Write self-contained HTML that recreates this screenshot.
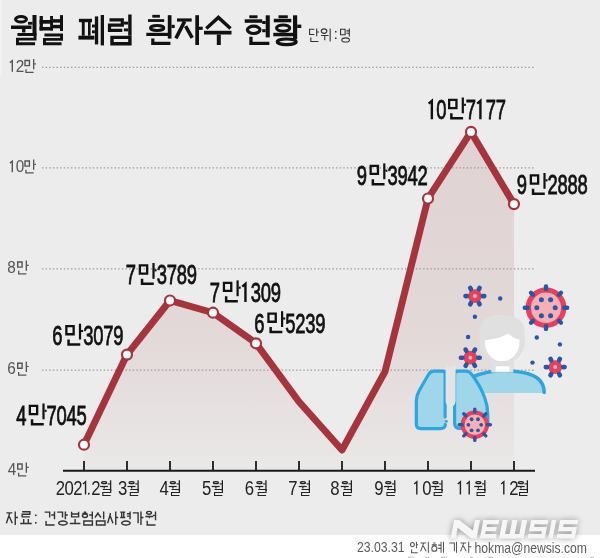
<!DOCTYPE html>
<html><head><meta charset="utf-8"><style>
html,body{margin:0;padding:0;background:#fff;width:600px;height:558px;overflow:hidden}
svg{display:block;will-change:transform}
text{font-family:"Liberation Sans",sans-serif}
</style></head><body>
<svg width="600" height="558" viewBox="0 0 600 558">
<rect x="0" y="0" width="600" height="535.5" fill="#ececec"/>
<rect x="0" y="535" width="600" height="23" fill="#ffffff"/>
<rect x="0" y="0" width="1.6" height="75" fill="#f2f2f2"/>
<defs><linearGradient id="gf" x1="0" y1="0" x2="0" y2="1"><stop offset="0" stop-color="#e0d2d2"/><stop offset="0.62" stop-color="#e3d9d9"/><stop offset="1" stop-color="#eae8e8"/></linearGradient></defs>
<polygon points="84.0,444.7 127.0,354.6 170.0,300.5 213.0,312.7 256.0,343.3 299.0,401.7 342.0,450.0 385.0,371.7 428.0,198.5 471.0,131.9 514.0,204.1 514.0,470.8 84.0,470.8" fill="url(#gf)"/>
<line x1="42" y1="67.3" x2="534" y2="67.3" stroke="#999" stroke-width="1.25" stroke-dasharray="1.4 2.23"/>
<line x1="42" y1="167.8" x2="534" y2="167.8" stroke="#999" stroke-width="1.25" stroke-dasharray="1.4 2.23"/>
<line x1="42" y1="268.8" x2="534" y2="268.8" stroke="#999" stroke-width="1.25" stroke-dasharray="1.4 2.23"/>
<line x1="42" y1="370.0" x2="534" y2="370.0" stroke="#999" stroke-width="1.25" stroke-dasharray="1.4 2.23"/>
<line x1="63" y1="470.8" x2="535" y2="470.8" stroke="#1a1a1a" stroke-width="2"/>
<line x1="84.0" y1="461" x2="84.0" y2="470.8" stroke="#1a1a1a" stroke-width="1.8"/>
<line x1="127.0" y1="461" x2="127.0" y2="470.8" stroke="#1a1a1a" stroke-width="1.8"/>
<line x1="170.0" y1="461" x2="170.0" y2="470.8" stroke="#1a1a1a" stroke-width="1.8"/>
<line x1="213.0" y1="461" x2="213.0" y2="470.8" stroke="#1a1a1a" stroke-width="1.8"/>
<line x1="256.0" y1="461" x2="256.0" y2="470.8" stroke="#1a1a1a" stroke-width="1.8"/>
<line x1="299.0" y1="461" x2="299.0" y2="470.8" stroke="#1a1a1a" stroke-width="1.8"/>
<line x1="342.0" y1="461" x2="342.0" y2="470.8" stroke="#1a1a1a" stroke-width="1.8"/>
<line x1="385.0" y1="461" x2="385.0" y2="470.8" stroke="#1a1a1a" stroke-width="1.8"/>
<line x1="428.0" y1="461" x2="428.0" y2="470.8" stroke="#1a1a1a" stroke-width="1.8"/>
<line x1="471.0" y1="461" x2="471.0" y2="470.8" stroke="#1a1a1a" stroke-width="1.8"/>
<line x1="514.0" y1="461" x2="514.0" y2="470.8" stroke="#1a1a1a" stroke-width="1.8"/>
<polyline points="84.0,444.7 127.0,354.6 170.0,300.5 213.0,312.7 256.0,343.3 299.0,401.7 342.0,450.0 385.0,371.7 428.0,198.5 471.0,131.9 514.0,204.1" fill="none" stroke="#a6343c" stroke-width="6.9" stroke-linejoin="round"/>
<circle cx="84.0" cy="444.7" r="5" fill="#fff" stroke="#a6343c" stroke-width="2.2"/>
<circle cx="127.0" cy="354.6" r="5" fill="#fff" stroke="#a6343c" stroke-width="2.2"/>
<circle cx="170.0" cy="300.5" r="5" fill="#fff" stroke="#a6343c" stroke-width="2.2"/>
<circle cx="213.0" cy="312.7" r="5" fill="#fff" stroke="#a6343c" stroke-width="2.2"/>
<circle cx="256.0" cy="343.3" r="5" fill="#fff" stroke="#a6343c" stroke-width="2.2"/>
<circle cx="428.0" cy="198.5" r="5" fill="#fff" stroke="#a6343c" stroke-width="2.2"/>
<circle cx="471.0" cy="131.9" r="5" fill="#fff" stroke="#a6343c" stroke-width="2.2"/>
<circle cx="514.0" cy="204.1" r="5" fill="#fff" stroke="#a6343c" stroke-width="2.2"/>
<g fill="none" stroke="#111111" stroke-linejoin="miter"><path d="M15.50 19.30A5.50 2.80 0 1 0 26.50 19.30A5.50 2.80 0 1 0 15.50 19.30Z" stroke-width="3.00"/><path d="M11.00 27.25H31.50" stroke-width="3.50"/><path d="M23.75 29.00V32.50" stroke-width="3.40"/><path d="M34.50 15.00V35.50" stroke-width="4.00"/><path d="M28.00 23.30H32.50" stroke-width="2.80"/><path d="M17.45 34.45 L35.05 34.45 L35.05 39.1 L17.45 39.1 L17.45 43.75 L35.05 43.75" stroke-width="2.90"/><path d="M41.25 16.00V30.50" stroke-width="3.30"/><path d="M51.55 16.00V30.50" stroke-width="2.90"/><path d="M39.60 21.85H53.00" stroke-width="3.70"/><path d="M39.60 28.75H53.00" stroke-width="3.50"/><path d="M61.50 15.10V31.00" stroke-width="3.00"/><path d="M53.00 20.90H60.00" stroke-width="3.50"/><path d="M53.00 26.60H60.00" stroke-width="3.50"/><path d="M44.45 34.95 L61.55 34.95 L61.55 39.35 L44.45 39.35 L44.45 43.75 L61.55 43.75" stroke-width="2.90"/><path d="M78.90 20.50H92.00" stroke-width="3.40"/><path d="M83.25 22.00V35.70" stroke-width="2.90"/><path d="M89.30 22.00V35.70" stroke-width="2.60"/><path d="M78.40 37.65H94.40" stroke-width="3.90"/><path d="M96.55 16.40V44.40" stroke-width="3.30"/><path d="M102.35 15.00V45.40" stroke-width="3.30"/><path d="M92.00 26.00H94.90" stroke-width="2.90"/><path d="M92.00 31.80H94.90" stroke-width="2.90"/><path d="M109.5 19.9 L122.3 19.9 L122.3 25.1 L109.5 25.1 L109.5 30.3 L122.3 30.3" stroke-width="3.20"/><path d="M129.90 14.50V35.70" stroke-width="3.40"/><path d="M123.90 23.10H128.20" stroke-width="2.90"/><path d="M123.90 29.90H128.20" stroke-width="2.90"/><path d="M112 37.4 L129.9 37.4 L129.9 43.7 L112 43.7Z" stroke-width="3.40"/><path d="M152.30 16.25H159.90" stroke-width="2.80"/><path d="M148.00 20.55H164.20" stroke-width="2.80"/><path d="M150.50 27.95A6.65 2.45 0 1 0 163.80 27.95A6.65 2.45 0 1 0 150.50 27.95Z" stroke-width="3.00"/><path d="M146.30 34.40H170.00" stroke-width="3.20"/><path d="M169.65 15.20V38.60" stroke-width="3.70"/><path d="M171.50 26.40H174.70" stroke-width="3.20"/><path d="M152.8 38.6 L152.8 43.4 L170.4 43.4" stroke-width="3.20"/><path d="M177.00 20.00H191.70" stroke-width="3.20"/><path d="M184.60 21.40 L175.90 38.40" stroke-width="3.60"/><path d="M185.60 26.20 L192.20 37.80" stroke-width="3.60"/><path d="M197.15 15.20V45.00" stroke-width="3.70"/><path d="M199.00 28.30H202.70" stroke-width="3.20"/><path d="M206.30 28.60 L218.40 17.40 L230.50 28.60" stroke-width="3.40"/><path d="M204.00 32.65H231.50" stroke-width="3.70"/><path d="M218.80 34.50V45.00" stroke-width="4.00"/><path d="M249.30 16.75H257.50" stroke-width="2.90"/><path d="M244.70 21.05H262.20" stroke-width="3.50"/><path d="M247.40 29.85A6.30 3.65 0 1 0 260.00 29.85A6.30 3.65 0 1 0 247.40 29.85Z" stroke-width="3.20"/><path d="M267.75 15.30V37.40" stroke-width="4.10"/><path d="M262.20 22.50H265.70" stroke-width="3.00"/><path d="M262.20 30.70H265.70" stroke-width="3.00"/><path d="M250.95 36.65 L250.95 43.35 L269.35 43.35" stroke-width="3.30"/><path d="M278.50 16.75H287.80" stroke-width="2.90"/><path d="M273.80 20.55H291.30" stroke-width="3.50"/><path d="M276.50 28.10A6.65 3.20 0 1 0 289.80 28.10A6.65 3.20 0 1 0 276.50 28.10Z" stroke-width="3.00"/><path d="M273.30 34.55H294.80" stroke-width="3.50"/><path d="M295.10 15.30V39.20" stroke-width="4.20"/><path d="M297.20 26.30H301.30" stroke-width="3.40"/><path d="M277.20 41.80A9.50 2.80 0 1 0 296.20 41.80A9.50 2.80 0 1 0 277.20 41.80Z" stroke-width="3.20"/></g>
<path d="M314.33 29.25 L309.55 29.25 L309.55 34.45 L314.33 34.45 M316.69 28.55 L316.69 36.13 M316.69 31.96 L318.95 31.96 M310.81 37.51 L310.81 41.45 L318.43 41.45" fill="none" stroke="#333" stroke-width="1.1" stroke-linejoin="miter" />
<path d="M321.28 31.08 A2.78 2.25 0 1 0 326.85 31.08 A2.78 2.25 0 1 0 321.28 31.08 Z M321.05 35.55 L328.46 35.55 M324.75 35.55 L324.75 40.33 M330.16 28.55 L330.16 41.45" fill="none" stroke="#333" stroke-width="1.1" stroke-linejoin="miter" />
<rect x="335" y="31" width="1.5" height="1.5" fill="#333"/><rect x="335" y="37.5" width="1.5" height="1.5" fill="#333"/>
<path d="M340.55 29.28 L345.12 29.28 L345.12 34.7 L340.55 34.7Z M349.32 28.55 L349.32 36.44 M346.43 30.92 L349.32 30.92 M346.43 33.28 L349.32 33.28 M341.81 39.89 A3.81 2.06 0 1 0 349.43 39.89 A3.81 2.06 0 1 0 341.81 39.89 Z" fill="none" stroke="#333" stroke-width="1.1" stroke-linejoin="miter" />
<path d="M9.90 62.60 L12.30 60.70 V71.70" fill="none" stroke="#555" stroke-width="1.40"/><text transform="translate(15.76 71.70) scale(0.9000 1)" font-family="Liberation Sans" font-size="17.00" font-weight="normal" letter-spacing="-1.611" fill="#555">2</text>
<g fill="none" stroke="#555" stroke-linejoin="miter" transform="translate(24.30 59.00)"><path d="M0.7 1.5 L5.1 1.5 L5.1 6.6 L0.7 6.6Z" stroke-width="1.40"/><path d="M9.35 0.00V10.30" stroke-width="1.35"/><path d="M10.00 4.80H11.70" stroke-width="1.15"/><path d="M1.65 10.25 L1.65 13.35 L9.35 13.35" stroke-width="1.30"/></g>
<path d="M9.90 163.10 L12.30 161.20 V172.20" fill="none" stroke="#555" stroke-width="1.40"/><text transform="translate(15.76 172.20) scale(0.9000 1)" font-family="Liberation Sans" font-size="17.00" font-weight="normal" letter-spacing="-1.611" fill="#555">0</text>
<g fill="none" stroke="#555" stroke-linejoin="miter" transform="translate(24.30 159.50)"><path d="M0.7 1.5 L5.1 1.5 L5.1 6.6 L0.7 6.6Z" stroke-width="1.40"/><path d="M9.35 0.00V10.30" stroke-width="1.35"/><path d="M10.00 4.80H11.70" stroke-width="1.15"/><path d="M1.65 10.25 L1.65 13.35 L9.35 13.35" stroke-width="1.30"/></g>
<text transform="translate(7.34 273.20) scale(0.9000 1)" font-family="Liberation Sans" font-size="17.00" font-weight="normal" letter-spacing="-1.611" fill="#555">8</text>
<g fill="none" stroke="#555" stroke-linejoin="miter" transform="translate(17.00 260.50)"><path d="M0.7 1.5 L5.1 1.5 L5.1 6.6 L0.7 6.6Z" stroke-width="1.40"/><path d="M9.35 0.00V10.30" stroke-width="1.35"/><path d="M10.00 4.80H11.70" stroke-width="1.15"/><path d="M1.65 10.25 L1.65 13.35 L9.35 13.35" stroke-width="1.30"/></g>
<text transform="translate(7.22 374.40) scale(0.9000 1)" font-family="Liberation Sans" font-size="17.00" font-weight="normal" letter-spacing="-1.611" fill="#555">6</text>
<g fill="none" stroke="#555" stroke-linejoin="miter" transform="translate(17.00 361.70)"><path d="M0.7 1.5 L5.1 1.5 L5.1 6.6 L0.7 6.6Z" stroke-width="1.40"/><path d="M9.35 0.00V10.30" stroke-width="1.35"/><path d="M10.00 4.80H11.70" stroke-width="1.15"/><path d="M1.65 10.25 L1.65 13.35 L9.35 13.35" stroke-width="1.30"/></g>
<text transform="translate(7.65 475.20) scale(0.9000 1)" font-family="Liberation Sans" font-size="17.00" font-weight="normal" letter-spacing="-1.611" fill="#555">4</text>
<g fill="none" stroke="#555" stroke-linejoin="miter" transform="translate(17.00 462.50)"><path d="M0.7 1.5 L5.1 1.5 L5.1 6.6 L0.7 6.6Z" stroke-width="1.40"/><path d="M9.35 0.00V10.30" stroke-width="1.35"/><path d="M10.00 4.80H11.70" stroke-width="1.15"/><path d="M1.65 10.25 L1.65 13.35 L9.35 13.35" stroke-width="1.30"/></g>
<text transform="translate(16.28 424.80) scale(0.6770 1)" font-family="Liberation Sans" font-size="27.20" font-weight="normal" letter-spacing="-0.369" fill="#111111" stroke="#111111" stroke-width="0.80">4</text>
<g fill="none" stroke="#111111" stroke-linejoin="miter" transform="translate(28.70 403.50)"><path d="M1.15 2.4 L8.45 2.4 L8.45 10.55 L1.15 10.55Z" stroke-width="2.30"/><path d="M14.80 0.00V15.80" stroke-width="2.20"/><path d="M15.85 7.30H17.90" stroke-width="2.10"/><path d="M3.35 15.75 L3.35 20.85 L15.05 20.85" stroke-width="2.50"/></g>
<text transform="translate(46.56 424.80) scale(0.6770 1)" font-family="Liberation Sans" font-size="27.20" font-weight="normal" letter-spacing="-0.369" fill="#111111" stroke="#111111" stroke-width="0.80">7045</text>
<text transform="translate(52.26 345.00) scale(0.6770 1)" font-family="Liberation Sans" font-size="27.20" font-weight="normal" letter-spacing="-0.369" fill="#111111" stroke="#111111" stroke-width="0.80">6</text>
<g fill="none" stroke="#111111" stroke-linejoin="miter" transform="translate(65.20 323.70)"><path d="M1.15 2.4 L8.45 2.4 L8.45 10.55 L1.15 10.55Z" stroke-width="2.30"/><path d="M14.80 0.00V15.80" stroke-width="2.20"/><path d="M15.85 7.30H17.90" stroke-width="2.10"/><path d="M3.35 15.75 L3.35 20.85 L15.05 20.85" stroke-width="2.50"/></g>
<text transform="translate(83.30 345.00) scale(0.6770 1)" font-family="Liberation Sans" font-size="27.20" font-weight="normal" letter-spacing="-0.369" fill="#111111" stroke="#111111" stroke-width="0.80">3079</text>
<text transform="translate(125.76 284.30) scale(0.6770 1)" font-family="Liberation Sans" font-size="27.20" font-weight="normal" letter-spacing="-0.369" fill="#111111" stroke="#111111" stroke-width="0.80">7</text>
<g fill="none" stroke="#111111" stroke-linejoin="miter" transform="translate(138.70 263.00)"><path d="M1.15 2.4 L8.45 2.4 L8.45 10.55 L1.15 10.55Z" stroke-width="2.30"/><path d="M14.80 0.00V15.80" stroke-width="2.20"/><path d="M15.85 7.30H17.90" stroke-width="2.10"/><path d="M3.35 15.75 L3.35 20.85 L15.05 20.85" stroke-width="2.50"/></g>
<text transform="translate(156.80 284.30) scale(0.6770 1)" font-family="Liberation Sans" font-size="27.20" font-weight="normal" letter-spacing="-0.369" fill="#111111" stroke="#111111" stroke-width="0.80">3789</text>
<text transform="translate(209.86 301.70) scale(0.6770 1)" font-family="Liberation Sans" font-size="27.20" font-weight="normal" letter-spacing="-0.369" fill="#111111" stroke="#111111" stroke-width="0.80">7</text>
<g fill="none" stroke="#111111" stroke-linejoin="miter" transform="translate(222.80 280.40)"><path d="M1.15 2.4 L8.45 2.4 L8.45 10.55 L1.15 10.55Z" stroke-width="2.30"/><path d="M14.80 0.00V15.80" stroke-width="2.20"/><path d="M15.85 7.30H17.90" stroke-width="2.10"/><path d="M3.35 15.75 L3.35 20.85 L15.05 20.85" stroke-width="2.50"/></g>
<path d="M242.25 286.59 L245.45 283.79 V302.10" fill="none" stroke="#111111" stroke-width="2.40"/><text transform="translate(250.87 301.70) scale(0.6770 1)" font-family="Liberation Sans" font-size="27.20" font-weight="normal" letter-spacing="-0.369" fill="#111111" stroke="#111111" stroke-width="0.80">309</text>
<text transform="translate(254.36 332.50) scale(0.6770 1)" font-family="Liberation Sans" font-size="27.20" font-weight="normal" letter-spacing="-0.369" fill="#111111" stroke="#111111" stroke-width="0.80">6</text>
<g fill="none" stroke="#111111" stroke-linejoin="miter" transform="translate(267.30 311.20)"><path d="M1.15 2.4 L8.45 2.4 L8.45 10.55 L1.15 10.55Z" stroke-width="2.30"/><path d="M14.80 0.00V15.80" stroke-width="2.20"/><path d="M15.85 7.30H17.90" stroke-width="2.10"/><path d="M3.35 15.75 L3.35 20.85 L15.05 20.85" stroke-width="2.50"/></g>
<text transform="translate(285.36 332.50) scale(0.6770 1)" font-family="Liberation Sans" font-size="27.20" font-weight="normal" letter-spacing="-0.369" fill="#111111" stroke="#111111" stroke-width="0.80">5239</text>
<text transform="translate(356.64 184.70) scale(0.6770 1)" font-family="Liberation Sans" font-size="27.20" font-weight="normal" letter-spacing="-0.369" fill="#111111" stroke="#111111" stroke-width="0.80">9</text>
<g fill="none" stroke="#111111" stroke-linejoin="miter" transform="translate(369.50 163.40)"><path d="M1.15 2.4 L8.45 2.4 L8.45 10.55 L1.15 10.55Z" stroke-width="2.30"/><path d="M14.80 0.00V15.80" stroke-width="2.20"/><path d="M15.85 7.30H17.90" stroke-width="2.10"/><path d="M3.35 15.75 L3.35 20.85 L15.05 20.85" stroke-width="2.50"/></g>
<text transform="translate(387.60 184.70) scale(0.6770 1)" font-family="Liberation Sans" font-size="27.20" font-weight="normal" letter-spacing="-0.369" fill="#111111" stroke="#111111" stroke-width="0.80">3942</text>
<path d="M428.65 103.69 L431.85 100.89 V119.20" fill="none" stroke="#111111" stroke-width="2.40"/><text transform="translate(436.32 118.80) scale(0.6770 1)" font-family="Liberation Sans" font-size="27.20" font-weight="normal" letter-spacing="-1.773" fill="#111111" stroke="#111111" stroke-width="0.80">0</text>
<g fill="none" stroke="#111111" stroke-linejoin="miter" transform="translate(448.00 97.50)"><path d="M1.15 2.4 L8.45 2.4 L8.45 10.55 L1.15 10.55Z" stroke-width="2.30"/><path d="M14.80 0.00V15.80" stroke-width="2.20"/><path d="M15.85 7.30H17.90" stroke-width="2.10"/><path d="M3.35 15.75 L3.35 20.85 L15.05 20.85" stroke-width="2.50"/></g>
<text transform="translate(465.86 118.80) scale(0.6770 1)" font-family="Liberation Sans" font-size="27.20" font-weight="normal" letter-spacing="-0.369" fill="#111111" stroke="#111111" stroke-width="0.80">7</text><path d="M477.21 103.69 L480.41 100.89 V119.20" fill="none" stroke="#111111" stroke-width="2.40"/><text transform="translate(485.84 118.80) scale(0.6770 1)" font-family="Liberation Sans" font-size="27.20" font-weight="normal" letter-spacing="-0.369" fill="#111111" stroke="#111111" stroke-width="0.80">77</text>
<text transform="translate(516.84 194.30) scale(0.6770 1)" font-family="Liberation Sans" font-size="27.20" font-weight="normal" letter-spacing="-0.369" fill="#111111" stroke="#111111" stroke-width="0.80">9</text>
<g fill="none" stroke="#111111" stroke-linejoin="miter" transform="translate(529.70 173.00)"><path d="M1.15 2.4 L8.45 2.4 L8.45 10.55 L1.15 10.55Z" stroke-width="2.30"/><path d="M14.80 0.00V15.80" stroke-width="2.20"/><path d="M15.85 7.30H17.90" stroke-width="2.10"/><path d="M3.35 15.75 L3.35 20.85 L15.05 20.85" stroke-width="2.50"/></g>
<text transform="translate(547.57 194.30) scale(0.6770 1)" font-family="Liberation Sans" font-size="27.20" font-weight="normal" letter-spacing="-0.369" fill="#111111" stroke="#111111" stroke-width="0.80">2888</text>
<text transform="translate(55.66 494.60) scale(0.8540 1)" font-family="Liberation Sans" font-size="19.60" font-weight="normal" letter-spacing="-0.585" fill="#222">202</text><path d="M82.94 483.92 L85.54 481.82 V494.60" fill="none" stroke="#222" stroke-width="1.40"/>
<rect x="88" y="492.8" width="1.6" height="1.8" fill="#222"/>
<text transform="translate(91.16 494.60) scale(0.8540 1)" font-family="Liberation Sans" font-size="19.60" font-weight="normal" letter-spacing="-0.585" fill="#222">2</text>
<g fill="none" stroke="#222" stroke-linejoin="miter" transform="translate(99.95 480.30)"><path d="M1.60 2.35A2.55 1.05 0 1 0 6.70 2.35A2.55 1.05 0 1 0 1.60 2.35Z" stroke-width="1.20"/><path d="M0.00 6.20H8.00" stroke-width="1.20"/><path d="M4.20 6.70V8.30" stroke-width="1.20"/><path d="M10.65 0.00V10.70" stroke-width="1.30"/><path d="M7.80 3.60H10.20" stroke-width="1.10"/><path d="M2.85 9.25 L10.75 9.25 L10.75 12.2 L2.85 12.2 L2.85 15.15 L10.75 15.15" stroke-width="1.10"/></g>
<text transform="translate(118.11 494.60) scale(0.8540 1)" font-family="Liberation Sans" font-size="19.60" font-weight="normal" letter-spacing="-0.585" fill="#222">3</text>
<g fill="none" stroke="#222" stroke-linejoin="miter" transform="translate(127.45 480.30)"><path d="M1.60 2.35A2.55 1.05 0 1 0 6.70 2.35A2.55 1.05 0 1 0 1.60 2.35Z" stroke-width="1.20"/><path d="M0.00 6.20H8.00" stroke-width="1.20"/><path d="M4.20 6.70V8.30" stroke-width="1.20"/><path d="M10.65 0.00V10.70" stroke-width="1.30"/><path d="M7.80 3.60H10.20" stroke-width="1.10"/><path d="M2.85 9.25 L10.75 9.25 L10.75 12.2 L2.85 12.2 L2.85 15.15 L10.75 15.15" stroke-width="1.10"/></g>
<text transform="translate(159.62 494.60) scale(0.8540 1)" font-family="Liberation Sans" font-size="19.60" font-weight="normal" letter-spacing="-0.585" fill="#222">4</text>
<g fill="none" stroke="#222" stroke-linejoin="miter" transform="translate(168.70 480.30)"><path d="M1.60 2.35A2.55 1.05 0 1 0 6.70 2.35A2.55 1.05 0 1 0 1.60 2.35Z" stroke-width="1.20"/><path d="M0.00 6.20H8.00" stroke-width="1.20"/><path d="M4.20 6.70V8.30" stroke-width="1.20"/><path d="M10.65 0.00V10.70" stroke-width="1.30"/><path d="M7.80 3.60H10.20" stroke-width="1.10"/><path d="M2.85 9.25 L10.75 9.25 L10.75 12.2 L2.85 12.2 L2.85 15.15 L10.75 15.15" stroke-width="1.10"/></g>
<text transform="translate(201.93 494.60) scale(0.8540 1)" font-family="Liberation Sans" font-size="19.60" font-weight="normal" letter-spacing="-0.585" fill="#222">5</text>
<g fill="none" stroke="#222" stroke-linejoin="miter" transform="translate(211.70 480.30)"><path d="M1.60 2.35A2.55 1.05 0 1 0 6.70 2.35A2.55 1.05 0 1 0 1.60 2.35Z" stroke-width="1.20"/><path d="M0.00 6.20H8.00" stroke-width="1.20"/><path d="M4.20 6.70V8.30" stroke-width="1.20"/><path d="M10.65 0.00V10.70" stroke-width="1.30"/><path d="M7.80 3.60H10.20" stroke-width="1.10"/><path d="M2.85 9.25 L10.75 9.25 L10.75 12.2 L2.85 12.2 L2.85 15.15 L10.75 15.15" stroke-width="1.10"/></g>
<text transform="translate(244.65 494.60) scale(0.8540 1)" font-family="Liberation Sans" font-size="19.60" font-weight="normal" letter-spacing="-0.585" fill="#222">6</text>
<g fill="none" stroke="#222" stroke-linejoin="miter" transform="translate(255.30 480.30)"><path d="M1.60 2.35A2.55 1.05 0 1 0 6.70 2.35A2.55 1.05 0 1 0 1.60 2.35Z" stroke-width="1.20"/><path d="M0.00 6.20H8.00" stroke-width="1.20"/><path d="M4.20 6.70V8.30" stroke-width="1.20"/><path d="M10.65 0.00V10.70" stroke-width="1.30"/><path d="M7.80 3.60H10.20" stroke-width="1.10"/><path d="M2.85 9.25 L10.75 9.25 L10.75 12.2 L2.85 12.2 L2.85 15.15 L10.75 15.15" stroke-width="1.10"/></g>
<text transform="translate(288.14 494.60) scale(0.8540 1)" font-family="Liberation Sans" font-size="19.60" font-weight="normal" letter-spacing="-0.585" fill="#222">7</text>
<g fill="none" stroke="#222" stroke-linejoin="miter" transform="translate(298.70 480.30)"><path d="M1.60 2.35A2.55 1.05 0 1 0 6.70 2.35A2.55 1.05 0 1 0 1.60 2.35Z" stroke-width="1.20"/><path d="M0.00 6.20H8.00" stroke-width="1.20"/><path d="M4.20 6.70V8.30" stroke-width="1.20"/><path d="M10.65 0.00V10.70" stroke-width="1.30"/><path d="M7.80 3.60H10.20" stroke-width="1.10"/><path d="M2.85 9.25 L10.75 9.25 L10.75 12.2 L2.85 12.2 L2.85 15.15 L10.75 15.15" stroke-width="1.10"/></g>
<text transform="translate(330.27 494.60) scale(0.8540 1)" font-family="Liberation Sans" font-size="19.60" font-weight="normal" letter-spacing="-0.585" fill="#222">8</text>
<g fill="none" stroke="#222" stroke-linejoin="miter" transform="translate(340.70 480.30)"><path d="M1.60 2.35A2.55 1.05 0 1 0 6.70 2.35A2.55 1.05 0 1 0 1.60 2.35Z" stroke-width="1.20"/><path d="M0.00 6.20H8.00" stroke-width="1.20"/><path d="M4.20 6.70V8.30" stroke-width="1.20"/><path d="M10.65 0.00V10.70" stroke-width="1.30"/><path d="M7.80 3.60H10.20" stroke-width="1.10"/><path d="M2.85 9.25 L10.75 9.25 L10.75 12.2 L2.85 12.2 L2.85 15.15 L10.75 15.15" stroke-width="1.10"/></g>
<text transform="translate(374.22 494.60) scale(0.8540 1)" font-family="Liberation Sans" font-size="19.60" font-weight="normal" letter-spacing="-0.585" fill="#222">9</text>
<g fill="none" stroke="#222" stroke-linejoin="miter" transform="translate(384.10 480.30)"><path d="M1.60 2.35A2.55 1.05 0 1 0 6.70 2.35A2.55 1.05 0 1 0 1.60 2.35Z" stroke-width="1.20"/><path d="M0.00 6.20H8.00" stroke-width="1.20"/><path d="M4.20 6.70V8.30" stroke-width="1.20"/><path d="M10.65 0.00V10.70" stroke-width="1.30"/><path d="M7.80 3.60H10.20" stroke-width="1.10"/><path d="M2.85 9.25 L10.75 9.25 L10.75 12.2 L2.85 12.2 L2.85 15.15 L10.75 15.15" stroke-width="1.10"/></g>
<path d="M414.20 483.92 L416.80 481.82 V494.60" fill="none" stroke="#222" stroke-width="1.40"/><text transform="translate(422.16 494.60) scale(0.8540 1)" font-family="Liberation Sans" font-size="19.60" font-weight="normal" letter-spacing="-0.585" fill="#222">0</text>
<g fill="none" stroke="#222" stroke-linejoin="miter" transform="translate(431.30 480.30)"><path d="M1.60 2.35A2.55 1.05 0 1 0 6.70 2.35A2.55 1.05 0 1 0 1.60 2.35Z" stroke-width="1.20"/><path d="M0.00 6.20H8.00" stroke-width="1.20"/><path d="M4.20 6.70V8.30" stroke-width="1.20"/><path d="M10.65 0.00V10.70" stroke-width="1.30"/><path d="M7.80 3.60H10.20" stroke-width="1.10"/><path d="M2.85 9.25 L10.75 9.25 L10.75 12.2 L2.85 12.2 L2.85 15.15 L10.75 15.15" stroke-width="1.10"/></g>
<path d="M457.80 483.92 L460.40 481.82 V494.60" fill="none" stroke="#222" stroke-width="1.40"/><path d="M466.61 483.92 L469.21 481.82 V494.60" fill="none" stroke="#222" stroke-width="1.40"/>
<g fill="none" stroke="#222" stroke-linejoin="miter" transform="translate(474.20 480.30)"><path d="M1.60 2.35A2.55 1.05 0 1 0 6.70 2.35A2.55 1.05 0 1 0 1.60 2.35Z" stroke-width="1.20"/><path d="M0.00 6.20H8.00" stroke-width="1.20"/><path d="M4.20 6.70V8.30" stroke-width="1.20"/><path d="M10.65 0.00V10.70" stroke-width="1.30"/><path d="M7.80 3.60H10.20" stroke-width="1.10"/><path d="M2.85 9.25 L10.75 9.25 L10.75 12.2 L2.85 12.2 L2.85 15.15 L10.75 15.15" stroke-width="1.10"/></g>
<path d="M501.20 483.92 L503.80 481.82 V494.60" fill="none" stroke="#222" stroke-width="1.40"/><text transform="translate(509.16 494.60) scale(0.8540 1)" font-family="Liberation Sans" font-size="19.60" font-weight="normal" letter-spacing="-0.585" fill="#222">2</text>
<g fill="none" stroke="#222" stroke-linejoin="miter" transform="translate(516.70 480.30)"><path d="M1.60 2.35A2.55 1.05 0 1 0 6.70 2.35A2.55 1.05 0 1 0 1.60 2.35Z" stroke-width="1.20"/><path d="M0.00 6.20H8.00" stroke-width="1.20"/><path d="M4.20 6.70V8.30" stroke-width="1.20"/><path d="M10.65 0.00V10.70" stroke-width="1.30"/><path d="M7.80 3.60H10.20" stroke-width="1.10"/><path d="M2.85 9.25 L10.75 9.25 L10.75 12.2 L2.85 12.2 L2.85 15.15 L10.75 15.15" stroke-width="1.10"/></g>
<g>
<path d="M470 393 L470 378 C480 373.5 490 370.8 502 370.8 C520 370.8 533 373 539.5 380 C543 384 544.2 388 544.2 393 Z" fill="#9fd6ea"/>
<path d="M472 377.2 C482 373 492 370.8 502 370.8 C520 370.8 533 373 539.5 380 C543 384 544.2 388 544.2 392.5" fill="none" stroke="#2ba6df" stroke-width="3.5" stroke-linecap="round"/>
<path d="M479.4 342 L479.4 331 C479.4 321 488 315 502 315 C516 315 524.6 321 524.6 331 L524.6 342 C524.6 355 514 363.6 502 363.6 C490 363.6 479.4 355 479.4 342 Z" fill="#e0e0e0"/>
<path d="M485 340.2 C493 339.6 502 337.5 508.3 333.6 C512 337.5 516 339.3 519.5 339.6 L519.5 342 C519.5 353.5 511 361.5 502 361.5 C493 361.5 485 353.5 485 342 Z" fill="#fff"/>
<rect x="491.3" y="361" width="22" height="11.5" fill="#e0e0e0"/>
<rect x="495.7" y="366.3" width="13.8" height="5.2" fill="#fff"/>
<path d="M445.1 424 L445.1 373.8 Q445.1 371.2 442.6 371.2 L434 371.2 Q430.5 371.2 428.5 374.5 L419.5 390 Q416.3 395.5 416.3 401 L416.3 423.8 Q416.3 428.6 421 428.6 L440.2 428.6 Q445.1 428.6 445.1 424 Z" fill="#9fd6ea"/>
<path d="M445.1 417 L445.1 373.8 Q445.1 371.2 442.6 371.2 L434 371.2 Q430.5 371.2 428.5 374.5 L419.5 390 Q416.3 395.5 416.3 401 L416.3 423.8 Q416.3 428.6 421 428.6 L440.2 428.6 Q445 428.6 445.4 424.6" fill="none" stroke="#2ba6df" stroke-width="3.2" stroke-linecap="round" stroke-linejoin="round"/>
<circle cx="446.3" cy="421.2" r="1.5" fill="#2ba6df"/>
<path d="M454.6 423 L454.6 374.5 Q454.6 371.2 458 371.2 L466 371.2 Q469 371.2 471 373.6 Q480 385 484.8 398 Q487.8 406 487.8 415 L487.8 422 Q487.8 428.5 482 428.5 L460 428.5 Q454.6 428.5 454.6 423 Z" fill="#9fd6ea" stroke="#2ba6df" stroke-width="3.2" stroke-linejoin="round"/>
<path d="M445.6 364.3 L450.5 367.6 L455.6 364.3 L455.6 401 Q455.6 404.5 452.8 406.5 L452.8 421 L449 421 L449 406.5 Q445.6 404.5 445.6 401 Z" fill="#e4e4e4"/>
<circle cx="546.0" cy="307.7" r="17.70" fill="#f5b0b5" stroke="#e8405b" stroke-width="5.20"/><path d="M546.00 326.10L546.00 328.90M532.99 320.71L531.01 322.69M527.60 307.70L524.80 307.70M532.99 294.69L531.01 292.71M546.00 289.30L546.00 286.50M559.01 294.69L560.99 292.71M564.40 307.70L567.20 307.70M559.01 320.71L560.99 322.69" stroke="#2757a8" stroke-width="4.40" stroke-linecap="round"/><circle cx="555.20" cy="307.70" r="2.50" fill="#2757a8"/><circle cx="550.60" cy="315.67" r="2.50" fill="#2757a8"/><circle cx="541.40" cy="315.67" r="2.50" fill="#2757a8"/><circle cx="536.80" cy="307.70" r="2.50" fill="#2757a8"/><circle cx="541.40" cy="299.73" r="2.50" fill="#2757a8"/><circle cx="550.60" cy="299.73" r="2.50" fill="#2757a8"/>
<circle cx="474.8" cy="424.8" r="12.20" fill="#f5b0b5" stroke="#e8405b" stroke-width="4.00"/><path d="M474.80 437.40L474.80 440.40M465.89 433.71L463.77 435.83M462.20 424.80L459.20 424.80M465.89 415.89L463.77 413.77M474.80 412.20L474.80 409.20M483.71 415.89L485.83 413.77M487.40 424.80L490.40 424.80M483.71 433.71L485.83 435.83" stroke="#2757a8" stroke-width="3.40" stroke-linecap="round"/><circle cx="481.20" cy="424.80" r="1.90" fill="#2757a8"/><circle cx="478.00" cy="430.34" r="1.90" fill="#2757a8"/><circle cx="471.60" cy="430.34" r="1.90" fill="#2757a8"/><circle cx="468.40" cy="424.80" r="1.90" fill="#2757a8"/><circle cx="471.60" cy="419.26" r="1.90" fill="#2757a8"/><circle cx="478.00" cy="419.26" r="1.90" fill="#2757a8"/>
<circle cx="474.9" cy="296.1" r="6.90" fill="#e8405b"/><circle cx="474.9" cy="296.1" r="2.00" fill="#f5b0b5"/><path d="M482.80 296.10L484.30 296.10M478.85 302.94L479.60 304.24M470.95 302.94L470.20 304.24M467.00 296.10L465.50 296.10M470.95 289.26L470.20 287.96M478.85 289.26L479.60 287.96" stroke="#2757a8" stroke-width="4.60" stroke-linecap="round"/>
<circle cx="470.3" cy="357.7" r="6.90" fill="#e8405b"/><circle cx="470.3" cy="357.7" r="2.00" fill="#f5b0b5"/><path d="M478.20 357.70L479.70 357.70M474.25 364.54L475.00 365.84M466.35 364.54L465.60 365.84M462.40 357.70L460.90 357.70M466.35 350.86L465.60 349.56M474.25 350.86L475.00 349.56" stroke="#2757a8" stroke-width="4.60" stroke-linecap="round"/>
<circle cx="555.2" cy="367.1" r="6.90" fill="#e8405b"/><circle cx="555.2" cy="367.1" r="2.00" fill="#f5b0b5"/><path d="M563.10 367.10L564.60 367.10M559.15 373.94L559.90 375.24M551.25 373.94L550.50 375.24M547.30 367.10L545.80 367.10M551.25 360.26L550.50 358.96M559.15 360.26L559.90 358.96" stroke="#2757a8" stroke-width="4.60" stroke-linecap="round"/>
<circle cx="500.2" cy="298.5" r="2.2" fill="#2757a8"/>
<circle cx="474.9" cy="316.8" r="2.2" fill="#2757a8"/>
<circle cx="468.1" cy="337.0" r="2.2" fill="#2757a8"/>
<circle cx="536.8" cy="337.5" r="2.2" fill="#2757a8"/>
<circle cx="559.9" cy="344.4" r="2.2" fill="#2757a8"/>
<circle cx="532.5" cy="362.6" r="2.2" fill="#2757a8"/>
</g>
<path d="M6.4 512.9 L12.28 512.9 M9.34 512.9 L9.34 514.45 L6.4 523.2 M9.34 516.51 L12.28 523.2 M15.24 511.4 L15.24 525 M15.24 517.52 L18 517.52" fill="none" stroke="#333" stroke-width="1.4" stroke-linejoin="miter" />
<path d="M22.15 511.7 L29.85 511.7 L29.85 514.3 L22.15 514.3 L22.15 516.9 L29.85 516.9 M20.2 523.5 L31.8 523.5 M23.68 518.9 L23.68 523.5 M28.32 518.9 L28.32 523.5" fill="none" stroke="#333" stroke-width="1.4" stroke-linejoin="miter" />
<rect x="35" y="514.5" width="1.6" height="1.6" fill="#333"/><rect x="35" y="522" width="1.6" height="1.6" fill="#333"/>
<path d="M44.6 512.15 L49.68 512.15 L49.68 517.5 M54.48 511.4 L54.48 519.3 M51.32 514.95 L54.48 514.95 M46.04 521 L46.04 525 L54.6 525" fill="none" stroke="#333" stroke-width="1.4" stroke-linejoin="miter" />
<path d="M57.2 512.15 L62.52 512.15 L62.52 517.5 M65.36 511.4 L65.36 519.3 M65.36 514.95 L67.8 514.95 M58.64 523 A4.28 2 0 1 0 67.2 523 A4.28 2 0 1 0 58.64 523 Z" fill="none" stroke="#333" stroke-width="1.4" stroke-linejoin="miter" />
<path d="M71.6 511.7 L71.6 516.9 L78.6 516.9 L78.6 511.7 M71.6 514.04 L78.6 514.04 M69.8 523.5 L80.4 523.5 M75.1 518.9 L75.1 523.5" fill="none" stroke="#333" stroke-width="1.4" stroke-linejoin="miter" />
<path d="M83.82 512.15 L86.06 512.15 M82.4 513.33 L87.48 513.33 M82.4 515.79 A2.54 1.71 0 1 0 87.48 515.79 A2.54 1.71 0 1 0 82.4 515.79 Z M92.28 511.4 L92.28 519.3 M89.12 514.95 L92.28 514.95 M83.84 521 L92.4 521 L92.4 525 L83.84 525Z" fill="none" stroke="#333" stroke-width="1.4" stroke-linejoin="miter" />
<path d="M98.02 512.15 L98.02 512.95 L95 517.5 M98.02 513.75 L101.04 517.5 M103.66 511.4 L103.66 519.3 M96.44 521 L105 521 L105 525 L96.44 525Z" fill="none" stroke="#333" stroke-width="1.4" stroke-linejoin="miter" />
<path d="M110.26 512.9 L110.26 514.45 L107.6 523.2 M110.26 515.99 L112.92 523.2 M115.76 511.4 L115.76 525 M115.76 517.52 L118.2 517.52" fill="none" stroke="#333" stroke-width="1.4" stroke-linejoin="miter" />
<path d="M120.2 512.15 L125.28 512.15 M120.2 517.5 L125.28 517.5 M121.72 512.15 L121.72 517.5 M123.76 512.15 L123.76 517.5 M130.08 511.4 L130.08 519.3 M126.92 513.77 L130.08 513.77 M126.92 516.14 L130.08 516.14 M121.64 523 A4.28 2 0 1 0 130.2 523 A4.28 2 0 1 0 121.64 523 Z" fill="none" stroke="#333" stroke-width="1.4" stroke-linejoin="miter" />
<path d="M132.8 512.9 L138.12 512.9 L138.12 523.2 M140.96 511.4 L140.96 525 M140.96 517.52 L143.4 517.52" fill="none" stroke="#333" stroke-width="1.4" stroke-linejoin="miter" />
<path d="M146.6 512.8 A2.42 1.4 0 1 0 151.44 512.8 A2.42 1.4 0 1 0 146.6 512.8 Z M145.4 516.5 L153.36 516.5 M149.38 516.5 L149.38 518.25 M155.52 511.4 L155.52 520.2 M152.84 515.36 L155.52 515.36 M147.2 520.7 L147.2 525 L155.52 525" fill="none" stroke="#333" stroke-width="1.4" stroke-linejoin="miter" />
<text transform="translate(356.99 552.20) scale(0.8550 1)" font-family="Liberation Sans" font-size="14.30" fill="#5a5a5a" >23.03.31</text>
<path d="M410.52 544.6 A1.91 2.18 0 1 0 414.35 544.6 A1.91 2.18 0 1 0 410.52 544.6 Z M416.44 541.82 L416.44 548.22 M416.44 544.7 L418.18 544.7 M411.57 549.5 L411.57 552.77 L417.74 552.77" fill="none" stroke="#555" stroke-width="1.05" stroke-linejoin="miter" />
<path d="M420.52 543.02 L426.11 543.02 M423.32 543.02 L423.32 544.27 L420.52 551.33 M423.32 545.93 L426.11 551.33 M428.35 541.82 L428.35 552.77" fill="none" stroke="#555" stroke-width="1.05" stroke-linejoin="miter" />
<path d="M433.24 543.02 L435.46 543.02 M431.82 544.85 L436.87 544.85 M431.82 548.68 A2.52 2.66 0 1 0 436.87 548.68 A2.52 2.66 0 1 0 431.82 548.68 Z M441.09 541.82 L441.09 552.77 M443.48 541.82 L443.48 552.77 M438.17 545.11 L441.09 545.11 M438.17 548.39 L441.09 548.39" fill="none" stroke="#555" stroke-width="1.05" stroke-linejoin="miter" />
<path d="M449.22 543.02 L454.38 543.02 L454.38 551.33 M456.5 541.82 L456.5 552.77" fill="none" stroke="#555" stroke-width="1.05" stroke-linejoin="miter" />
<path d="M460.52 543.02 L466.2 543.02 M463.36 543.02 L463.36 544.27 L460.52 551.33 M463.36 545.93 L466.2 551.33 M468.69 541.82 L468.69 552.77 M468.69 546.75 L471.48 546.75" fill="none" stroke="#555" stroke-width="1.05" stroke-linejoin="miter" />
<text transform="translate(474.56 552.60) scale(0.8400 1)" font-family="Liberation Sans" font-size="14.50" fill="#5a5a5a" >hokma@newsis.com</text>
<rect x="408" y="556.8" width="6" height="1.2" fill="#c4c4c4"/>
<rect x="425" y="556.8" width="4" height="1.2" fill="#c4c4c4"/>
<rect x="441" y="556.8" width="6" height="1.2" fill="#c4c4c4"/>
<rect x="470" y="556.8" width="3" height="1.2" fill="#c4c4c4"/>
<rect x="488" y="556.8" width="5" height="1.2" fill="#c4c4c4"/>
<rect x="590" y="556.8" width="4" height="1.2" fill="#c4c4c4"/>
<defs><filter id="sh" x="-20%" y="-60%" width="140%" height="220%"><feGaussianBlur stdDeviation="3.2"/></filter></defs>
<g transform="translate(0 538.4) skewX(-11) translate(0 -538.4)">
<path d="M450.5 538.4 L450.5 520.0 L455.6 520.0 L471.4 530.6 L471.4 520.0 L476.5 520.0 L476.5 538.4 L471.4 538.4 L455.6 527.8 L455.6 538.4Z M479.8 520.0 L495.8 520.0 L495.8 524.3 L484.3 524.3 L484.3 527.1 L494.6 527.1 L494.6 531.3 L484.3 531.3 L484.3 534.1 L495.8 534.1 L495.8 538.4 L479.8 538.4Z M499.0 520.0 L504.2 520.0 L504.2 533.9 L508.7 533.9 L508.7 520.0 L513.9 520.0 L513.9 533.9 L518.4 533.9 L518.4 520.0 L523.6 520.0 L523.6 538.4 L499.0 538.4Z M527.6 520.0 L544.8 520.0 L544.8 524.3 L531.9 524.3 L531.9 527.1 L544.8 527.1 L544.8 538.4 L527.6 538.4 L527.6 534.1 L540.5 534.1 L540.5 531.3 L527.6 531.3Z M548.2 520.0 L552.7 520.0 L552.7 538.4 L548.2 538.4Z M556.6 520.0 L574.8 520.0 L574.8 524.3 L560.9 524.3 L560.9 527.1 L574.8 527.1 L574.8 538.4 L556.6 538.4 L556.6 534.1 L570.5 534.1 L570.5 531.3 L556.6 531.3Z" fill="#6a6a6a" opacity="0.7" filter="url(#sh)"/>
<path d="M450.5 538.4 L450.5 520.0 L455.6 520.0 L471.4 530.6 L471.4 520.0 L476.5 520.0 L476.5 538.4 L471.4 538.4 L455.6 527.8 L455.6 538.4Z M479.8 520.0 L495.8 520.0 L495.8 524.3 L484.3 524.3 L484.3 527.1 L494.6 527.1 L494.6 531.3 L484.3 531.3 L484.3 534.1 L495.8 534.1 L495.8 538.4 L479.8 538.4Z M499.0 520.0 L504.2 520.0 L504.2 533.9 L508.7 533.9 L508.7 520.0 L513.9 520.0 L513.9 533.9 L518.4 533.9 L518.4 520.0 L523.6 520.0 L523.6 538.4 L499.0 538.4Z M527.6 520.0 L544.8 520.0 L544.8 524.3 L531.9 524.3 L531.9 527.1 L544.8 527.1 L544.8 538.4 L527.6 538.4 L527.6 534.1 L540.5 534.1 L540.5 531.3 L527.6 531.3Z M548.2 520.0 L552.7 520.0 L552.7 538.4 L548.2 538.4Z M556.6 520.0 L574.8 520.0 L574.8 524.3 L560.9 524.3 L560.9 527.1 L574.8 527.1 L574.8 538.4 L556.6 538.4 L556.6 534.1 L570.5 534.1 L570.5 531.3 L556.6 531.3Z" fill="#f6f6f6"/>
</g>
</svg></body></html>
